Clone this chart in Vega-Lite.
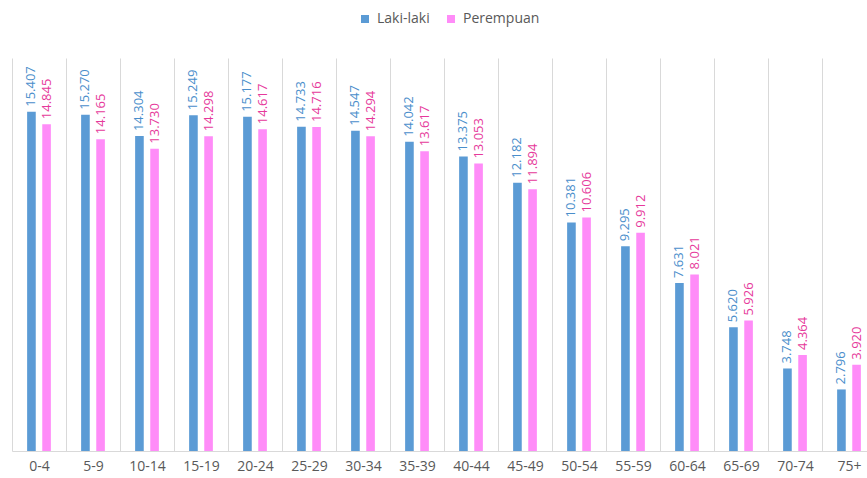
{
  "$schema": "https://vega.github.io/schema/vega-lite/v6.json",
  "width": 864,
  "height": 393,
  "autosize": {"type": "none"},
  "padding": {"left": 12, "top": 58, "right": 0, "bottom": 27},
  "background": "#ffffff",
  "config": {
    "view": {"stroke": null},
    "font": "Open Sans",
    "locale": {"number": {"decimal": ",", "thousands": ".", "grouping": [3], "currency": ["Rp", ""]}}
  },
  "data": {
    "values": [
      {"umur": "0-4", "jk": "Laki-laki", "jumlah": 15407},
      {"umur": "0-4", "jk": "Perempuan", "jumlah": 14845},
      {"umur": "5-9", "jk": "Laki-laki", "jumlah": 15270},
      {"umur": "5-9", "jk": "Perempuan", "jumlah": 14165},
      {"umur": "10-14", "jk": "Laki-laki", "jumlah": 14304},
      {"umur": "10-14", "jk": "Perempuan", "jumlah": 13730},
      {"umur": "15-19", "jk": "Laki-laki", "jumlah": 15249},
      {"umur": "15-19", "jk": "Perempuan", "jumlah": 14298},
      {"umur": "20-24", "jk": "Laki-laki", "jumlah": 15177},
      {"umur": "20-24", "jk": "Perempuan", "jumlah": 14617},
      {"umur": "25-29", "jk": "Laki-laki", "jumlah": 14733},
      {"umur": "25-29", "jk": "Perempuan", "jumlah": 14716},
      {"umur": "30-34", "jk": "Laki-laki", "jumlah": 14547},
      {"umur": "30-34", "jk": "Perempuan", "jumlah": 14294},
      {"umur": "35-39", "jk": "Laki-laki", "jumlah": 14042},
      {"umur": "35-39", "jk": "Perempuan", "jumlah": 13617},
      {"umur": "40-44", "jk": "Laki-laki", "jumlah": 13375},
      {"umur": "40-44", "jk": "Perempuan", "jumlah": 13053},
      {"umur": "45-49", "jk": "Laki-laki", "jumlah": 12182},
      {"umur": "45-49", "jk": "Perempuan", "jumlah": 11894},
      {"umur": "50-54", "jk": "Laki-laki", "jumlah": 10381},
      {"umur": "50-54", "jk": "Perempuan", "jumlah": 10606},
      {"umur": "55-59", "jk": "Laki-laki", "jumlah": 9295},
      {"umur": "55-59", "jk": "Perempuan", "jumlah": 9912},
      {"umur": "60-64", "jk": "Laki-laki", "jumlah": 7631},
      {"umur": "60-64", "jk": "Perempuan", "jumlah": 8021},
      {"umur": "65-69", "jk": "Laki-laki", "jumlah": 5620},
      {"umur": "65-69", "jk": "Perempuan", "jumlah": 5926},
      {"umur": "70-74", "jk": "Laki-laki", "jumlah": 3748},
      {"umur": "70-74", "jk": "Perempuan", "jumlah": 4364},
      {"umur": "75+", "jk": "Laki-laki", "jumlah": 2796},
      {"umur": "75+", "jk": "Perempuan", "jumlah": 3920}
    ]
  },
  "encoding": {
    "x": {
      "field": "umur", "type": "nominal", "sort": null,
      "scale": {"paddingInner": 0, "paddingOuter": 0},
      "axis": {
        "title": null, "labelAngle": 0, "tickBand": "extent", "grid": true,
        "gridColor": "#d9d9d9", "gridWidth": 1, "ticks": false,
        "domainColor": "#d9d9d9", "labelColor": "#595959", "labelFontSize": 14,
        "labelPadding": 8, "labelFont": "Open Sans"
      }
    },
    "xOffset": {
      "field": "jk", "type": "nominal",
      "scale": {"paddingInner": 0.43, "paddingOuter": 1.14}
    },
    "y": {
      "field": "jumlah", "type": "quantitative",
      "scale": {"domain": [0, 17850]},
      "axis": null
    }
  },
  "layer": [
    {
      "mark": {"type": "bar"},
      "encoding": {
        "color": {
          "field": "jk", "type": "nominal",
          "scale": {"domain": ["Laki-laki", "Perempuan"], "range": ["#5b9bd5", "#ff8cf8"]},
          "legend": {
            "title": null, "orient": "none", "direction": "horizontal",
            "legendX": 346, "legendY": -46, "symbolType": "square", "symbolSize": 64,
            "labelFontSize": 14, "labelColor": "#595959", "columnPadding": 14,
            "labelFont": "Open Sans", "symbolStrokeWidth": 0, "labelOffset": 5
          }
        }
      }
    },
    {
      "mark": {"type": "text", "angle": 270, "align": "left", "baseline": "middle", "dx": 5, "fontSize": 13, "font": "Open Sans"},
      "encoding": {
        "text": {"field": "jumlah", "type": "quantitative", "format": ",d"},
        "color": {
          "field": "jk", "type": "nominal",
          "scale": {"domain": ["Laki-laki", "Perempuan"], "range": ["#5b9bd5", "#ff8cf8"]},
          "legend": null
        },
        "fill": {
          "field": "jk", "type": "nominal",
          "scale": {"domain": ["Laki-laki", "Perempuan"], "range": ["#4a8ecb", "#e6399b"]},
          "legend": null
        }
      }
    }
  ],
  "resolve": {"scale": {"fill": "independent"}}
}
